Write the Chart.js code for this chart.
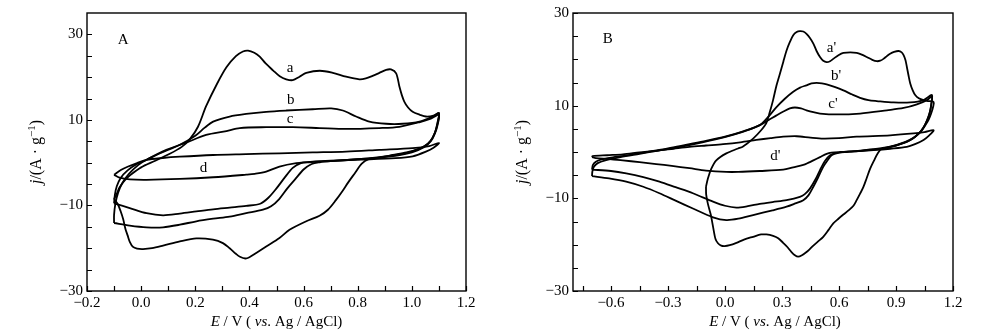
<!DOCTYPE html>
<html>
<head>
<meta charset="utf-8">
<script src="https://cdn.jsdelivr.net/npm/chart.js@4.4.0/dist/chart.umd.min.js"></script>
<style>
  html, body { margin: 0; padding: 0; background: #fff; }
  #wrap { position: relative; width: 987px; height: 336px; }
  .panel { position: absolute; top: 0; height: 336px; }
  #panelA { left: 0; width: 490px; }
  #panelB { left: 490px; width: 497px; }
</style>
</head>
<body>
<div id="wrap">
  <div class="panel" id="panelA"><canvas id="chartA"></canvas></div>
  <div class="panel" id="panelB"><canvas id="chartB"></canvas></div>
</div>
<script>
// ---- axis ticks / labels ----
var xTicksA = [-0.2, -0.1, 0, 0.1, 0.2, 0.3, 0.4, 0.5, 0.6, 0.7, 0.8, 0.9, 1.0, 1.1, 1.2];
var xLabelsA = ['\u22120.2', '', '0.0', '', '0.2', '', '0.4', '', '0.6', '', '0.8', '', '1.0', '', '1.2'];
var xTicksB = [-0.75, -0.6, -0.45, -0.3, -0.15, 0, 0.15, 0.3, 0.45, 0.6, 0.75, 0.9, 1.05, 1.2];
var xLabelsB = ['', '\u22120.6', '', '\u22120.3', '', '0.0', '', '0.3', '', '0.6', '', '0.9', '', '1.2'];
var yTicks = [-30, -25, -20, -15, -10, -5, 0, 5, 10, 15, 20, 25, 30];
var yLabels = ['\u221230', '', '', '', '\u221210', '', '', '', '10', '', '', '', '30'];

// ---- CV loops, panel A: [E (V), j (A/g)] ----
var loopA_a = [
    [-0.1,-8.5],[-0.09,-7.3],[-0.08,-5.8],[-0.06,-4.1],[-0.04,-2.9],[0.0,-1.1],[0.05,0.4],[0.1,1.9],[0.15,3.7],
    [0.18,5.5],[0.21,8.4],[0.24,13.2],[0.28,18.4],[0.315,22.3],[0.35,24.9],[0.376,26],[0.395,26.2],[0.418,25.7],
    [0.438,24.8],[0.46,23.2],[0.487,21.6],[0.512,20.2],[0.536,19.5],[0.56,19.3],[0.585,20.1],[0.61,21],[0.66,21.5],
    [0.708,21],[0.757,20.1],[0.806,19.5],[0.83,19.7],[0.855,20.3],[0.88,21],[0.905,21.7],[0.923,21.8],[0.942,20.9],
    [0.954,17.8],[0.963,15.8],[0.972,14.3],[0.986,12.9],[1.003,11.9],[1.03,11.2],[1.052,10.8],[1.08,11],[1.1,11.6],
    [1.095,9.5],[1.085,7],[1.07,5.2],[1.05,4],[1.02,3.1],[0.98,2.4],[0.93,1.8],[0.88,1.2],[0.84,0.8],[0.815,-0.2],
    [0.79,-2.4],[0.765,-4.6],[0.742,-6.8],[0.72,-8.7],[0.69,-11],[0.659,-12.4],[0.61,-13.7],[0.548,-15.7],[0.511,-17.6],
    [0.462,-19.6],[0.425,-21.1],[0.4,-22.1],[0.385,-22.4],[0.365,-22],[0.35,-21.3],[0.327,-20],[0.302,-18.8],
    [0.265,-18],[0.204,-17.7],[0.143,-18.4],[0.081,-19.4],[0.04,-20],[0.007,-20.2],[-0.015,-20.1],[-0.03,-19.7],
    [-0.042,-18.5],[-0.05,-17],[-0.058,-15.5],[-0.066,-13.3],[-0.076,-11.3],[-0.087,-9.6],[-0.1,-8.5]
];
var loopA_b = [
    [-0.1,-9.5],[-0.097,-7.5],[-0.09,-5.5],[-0.075,-3.5],[-0.05,-1.8],[-0.02,-0.5],[0.02,0.7],[0.07,2.2],[0.143,4.2],
    [0.2,6.3],[0.235,8.2],[0.266,9.6],[0.327,10.8],[0.388,11.4],[0.462,11.9],[0.536,12.2],[0.634,12.5],[0.702,12.7],
    [0.745,12.2],[0.794,10.8],[0.843,9.6],[0.905,9.1],[0.966,9.1],[1.028,9.6],[1.077,10.8],[1.1,11.6],
    [1.095,9.2],[1.085,7],[1.07,5.2],[1.045,3.8],[1.0,2.6],[0.95,1.9],[0.88,1.3],[0.8,0.8],[0.7,0.4],[0.62,0.1],
    [0.59,-0.1],[0.56,-1.2],[0.53,-3.5],[0.5,-6],[0.47,-8.2],[0.44,-9.6],[0.388,-10.1],[0.327,-10.5],[0.266,-10.9],
    [0.204,-11.4],[0.143,-11.9],[0.081,-12.3],[0.02,-11.8],[-0.042,-10.6],[-0.1,-9.5]
];
var loopA_c = [
    [-0.1,-14.1],[-0.1,-12.2],[-0.095,-9.5],[-0.085,-7],[-0.07,-4.8],[-0.045,-2.6],[-0.01,-0.5],[0.02,0.7],[0.093,3.0],
    [0.167,4.7],[0.24,6.5],[0.315,7.4],[0.364,8.1],[0.462,8.3],[0.56,8.3],[0.659,8.1],[0.757,7.9],[0.88,8.1],
    [0.954,8.4],[1.03,9.5],[1.07,10.3],[1.1,11.2],
    [1.095,8.8],[1.085,6.8],[1.07,5],[1.045,3.6],[1.0,2.4],[0.95,1.7],[0.88,1.2],[0.8,0.8],[0.7,0.35],[0.66,0.1],
    [0.63,-0.3],[0.6,-1.6],[0.57,-3.8],[0.54,-6],[0.51,-8.5],[0.48,-10.2],[0.45,-11],[0.388,-11.8],[0.327,-12.6],
    [0.266,-13.1],[0.204,-13.7],[0.143,-14.5],[0.081,-15.1],[0.02,-15.1],[-0.042,-14.7],[-0.1,-14.1]
];
var loopA_d = [
    [-0.1,-2.8],[-0.075,-1.7],[-0.048,-0.9],[-0.015,-0.1],[0.02,0.66],[0.08,1.1],[0.143,1.4],[0.266,1.8],[0.388,2.0],
    [0.511,2.2],[0.634,2.4],[0.757,2.6],[0.88,3.0],[1.003,3.4],[1.064,3.9],[1.1,4.6],
    [1.08,3.5],[1.052,2.6],[1.003,1.5],[0.94,1.05],[0.8,0.7],[0.7,0.45],[0.634,0.27],[0.573,-0.1],[0.511,-0.9],
    [0.462,-2.1],[0.42,-2.6],[0.388,-2.8],[0.266,-3.4],[0.143,-3.8],[0.02,-4.0],[-0.042,-3.9],[-0.08,-3.5],[-0.1,-2.8]
];

// ---- CV loops, panel B ----
var loopB_a = [
    [-0.1,-7.5],[-0.09,-5.7],[-0.072,-3.6],[-0.046,-1.8],[0.007,-0.3],[0.069,0.75],[0.095,1.2],[0.148,2.9],[0.19,4.7],
    [0.218,6.3],[0.235,8.5],[0.253,11.2],[0.27,14.2],[0.289,16.9],[0.307,19.5],[0.324,21.9],[0.341,23.7],[0.359,25.2],
    [0.377,25.9],[0.394,26.1],[0.412,26],[0.429,25.5],[0.447,24.6],[0.465,23.4],[0.482,21.8],[0.5,20.5],[0.517,19.7],
    [0.535,19.4],[0.553,19.6],[0.57,20.1],[0.597,20.9],[0.623,21.4],[0.66,21.5],[0.693,21.4],[0.72,21],[0.746,20.5],
    [0.775,19.9],[0.799,19.6],[0.817,19.7],[0.834,20.1],[0.852,20.7],[0.869,21.2],[0.89,21.6],[0.913,21.8],[0.93,21.5],
    [0.94,20.9],[0.95,19.8],[0.957,18.4],[0.966,16.5],[0.975,14.8],[0.988,13.3],[1.001,12.3],[1.02,11.6],[1.045,11.2],
    [1.07,11],[1.098,10.8],
    [1.095,9.7],[1.085,8.3],[1.072,7.0],[1.055,5.8],[1.035,4.6],[1.01,3.6],[0.985,2.8],[0.957,2.2],[0.915,1.6],
    [0.87,1.1],[0.825,0.7],[0.805,-0.2],[0.785,-1.8],[0.764,-3.6],[0.746,-5.6],[0.728,-7.6],[0.711,-9.0],[0.693,-10.4],
    [0.676,-11.6],[0.65,-12.6],[0.623,-13.5],[0.597,-14.4],[0.57,-15.4],[0.545,-16.8],[0.517,-18.3],[0.49,-19.3],
    [0.465,-20.2],[0.445,-21],[0.429,-21.6],[0.405,-22.3],[0.385,-22.6],[0.368,-22.3],[0.35,-21.6],[0.328,-20.5],
    [0.306,-19.6],[0.28,-18.6],[0.253,-18.1],[0.218,-17.8],[0.19,-17.8],[0.148,-18.3],[0.1,-18.9],[0.06,-19.6],
    [0.025,-20.1],[-0.002,-20.3],[-0.02,-20.2],[-0.037,-19.7],[-0.05,-18.8],[-0.063,-16.1],[-0.075,-13.5],
    [-0.09,-11.2],[-0.099,-9.2],[-0.1,-7.5]
];
var loopB_b = [
    [-0.7,-3.8],[-0.695,-2.8],[-0.68,-2.1],[-0.65,-1.6],[-0.6,-1.2],[-0.5,-0.6],[-0.4,0.1],[-0.3,0.8],[-0.2,1.6],
    [-0.1,2.4],[0.0,3.3],[0.1,4.5],[0.183,5.8],[0.23,7.7],[0.271,9.7],[0.315,11.5],[0.359,13.0],[0.395,13.9],
    [0.429,14.4],[0.455,14.8],[0.482,14.9],[0.51,14.8],[0.535,14.6],[0.58,14.0],[0.623,13.3],[0.67,12.4],[0.711,11.7],
    [0.755,11.2],[0.799,11.0],[0.887,10.7],[0.975,10.7],[1.045,11.2],[1.089,12.3],
    [1.085,10.2],[1.078,8.6],[1.065,7.0],[1.045,5.3],[1.02,4.0],[0.99,3.0],[0.95,2.2],[0.9,1.5],[0.85,1.0],[0.78,0.6],
    [0.7,0.25],[0.63,0.0],[0.588,-0.2],[0.553,-0.7],[0.525,-2.0],[0.5,-3.9],[0.475,-6.0],[0.447,-7.9],[0.42,-9.1],
    [0.394,-9.7],[0.324,-10.4],[0.25,-10.8],[0.183,-11.2],[0.12,-11.7],[0.06,-12.0],[0.0,-11.6],[-0.063,-10.7],
    [-0.169,-8.9],[-0.26,-7.6],[-0.345,-6.4],[-0.43,-5.4],[-0.52,-4.6],[-0.6,-4.1],[-0.7,-3.8]
];
var loopB_c = [
    [-0.7,-5.2],[-0.698,-4.2],[-0.69,-3.2],[-0.67,-2.4],[-0.63,-1.8],[-0.55,-1.1],[-0.45,-0.4],[-0.35,0.3],[-0.25,1.0],
    [-0.15,1.8],[-0.05,2.7],[0.05,3.8],[0.13,4.9],[0.183,5.8],[0.23,6.9],[0.271,7.9],[0.31,8.8],[0.341,9.4],[0.368,9.6],
    [0.4,9.4],[0.429,9.0],[0.465,8.6],[0.5,8.3],[0.588,8.1],[0.711,8.3],[0.852,9.0],[0.94,9.5],[1.01,10.3],[1.063,11.2],
    [1.089,12.0],
    [1.085,10.0],[1.077,8.4],[1.063,6.8],[1.043,5.2],[1.018,3.9],[0.988,2.9],[0.95,2.1],[0.9,1.4],[0.85,0.9],[0.78,0.5],
    [0.7,0.2],[0.64,0.0],[0.597,-0.2],[0.561,-0.7],[0.54,-1.8],[0.517,-3.2],[0.49,-5.5],[0.465,-7.5],[0.44,-9.3],
    [0.412,-10.4],[0.37,-11.1],[0.324,-11.8],[0.25,-12.6],[0.148,-13.6],[0.07,-14.4],[0.007,-14.7],[-0.063,-14.1],
    [-0.169,-12.2],[-0.26,-10.5],[-0.345,-8.9],[-0.43,-7.5],[-0.52,-6.4],[-0.61,-5.7],[-0.7,-5.2]
];
var loopB_d = [
    [-0.7,-1.1],[-0.697,-0.9],[-0.62,-0.7],[-0.538,-0.5],[-0.45,-0.1],[-0.362,0.25],[-0.27,0.7],[-0.187,1.1],
    [-0.1,1.4],[-0.01,1.7],[0.08,2.1],[0.165,2.6],[0.24,3.0],[0.306,3.3],[0.377,3.4],[0.45,3.1],[0.517,2.9],[0.6,3.0],
    [0.693,3.3],[0.869,3.6],[0.993,4.0],[1.05,4.3],[1.098,4.7],
    [1.075,3.6],[1.045,2.6],[1.0,1.7],[0.957,1.1],[0.87,0.7],[0.781,0.4],[0.68,0.15],[0.605,0.0],[0.56,-0.15],
    [0.535,-0.4],[0.5,-1.1],[0.465,-1.8],[0.44,-2.3],[0.412,-2.8],[0.359,-3.3],[0.306,-3.8],[0.183,-4.1],[0.07,-4.3],
    [0.007,-4.3],[-0.1,-4.0],[-0.187,-3.5],[-0.28,-3.0],[-0.362,-2.6],[-0.45,-2.2],[-0.538,-1.8],[-0.62,-1.5],
    [-0.68,-1.3],[-0.7,-1.1]
];

// curve tags, placed in data units
var tagsA = [
    { text: 'A', x: -0.066, y: 28.7, size: 15 },
    { text: 'a', x: 0.55, y: 22.2 },
    { text: 'b', x: 0.553, y: 14.7 },
    { text: 'c', x: 0.55, y: 10.1 },
    { text: 'd', x: 0.23, y: -1.3 }
];
var tagsB = [
    { text: 'B', x: -0.617, y: 24.3, size: 15 },
    { text: "a'", x: 0.56, y: 22.4 },
    { text: "b'", x: 0.585, y: 16.4 },
    { text: "c'", x: 0.568, y: 10.25 },
    { text: "d'", x: 0.265, y: -0.8 }
];

var SERIF = '"Liberation Serif", "Times New Roman", serif';
Chart.defaults.font.family = SERIF;
Chart.defaults.color = '#000';

function toPoints(loop) {
    return loop.map(function (p) { return { x: p[0], y: p[1] }; });
}

function makeDatasets(loops) {
    return loops.map(function (loop) {
        return {
            data: toPoints(loop),
            showLine: true,
            borderColor: '#000',
            borderWidth: 1.8,
            pointRadius: 0,
            tension: 0.3,
            fill: false
        };
    });
}

// draw mixed-style text runs centred on (x, y)
function drawRuns(ctx, runs, x, y, rotate) {
    ctx.save();
    ctx.translate(x, y);
    if (rotate) ctx.rotate(-Math.PI / 2);
    ctx.fillStyle = '#000';
    ctx.textBaseline = 'alphabetic';
    var total = 0;
    runs.forEach(function (r) { ctx.font = r.font; total += ctx.measureText(r.t).width; });
    var cx = -total / 2;
    runs.forEach(function (r) {
        ctx.font = r.font;
        ctx.fillText(r.t, cx, 5 + (r.dy || 0));
        cx += ctx.measureText(r.t).width;
    });
    ctx.restore();
}

var xTitleRuns = [
    { t: 'E', font: 'italic 15px ' + SERIF },
    { t: ' / V ( ', font: '15px ' + SERIF },
    { t: 'vs', font: 'italic 15px ' + SERIF },
    { t: '. Ag / AgCl)', font: '15px ' + SERIF }
];
var yTitleRuns = [
    { t: 'j', font: 'italic 16px ' + SERIF },
    { t: '/(A \u00b7 g', font: '16px ' + SERIF },
    { t: '\u22121', font: '11px ' + SERIF, dy: -6 },
    { t: ')', font: '16px ' + SERIF }
];

// box frame, inward ticks, tags and axis titles
var cvDecor = {
    id: 'cvDecor',
    afterDraw: function (chart, args, opts) {
        var ctx = chart.ctx, a = chart.chartArea;
        var xs = chart.scales.x, ys = chart.scales.y;
        ctx.save();
        ctx.strokeStyle = '#000';
        ctx.lineWidth = 1.4;
        ctx.strokeRect(a.left, a.top, a.right - a.left, a.bottom - a.top);
        ctx.lineWidth = 1.2;
        ctx.beginPath();
        xs.ticks.forEach(function (t) {
            var px = Math.round(xs.getPixelForValue(t.value)) + 0.5;
            ctx.moveTo(px, a.bottom);
            ctx.lineTo(px, a.bottom - 5);
        });
        ys.ticks.forEach(function (t) {
            var py = Math.round(ys.getPixelForValue(t.value)) + 0.5;
            ctx.moveTo(a.left, py);
            ctx.lineTo(a.left + 5, py);
        });
        ctx.stroke();

        ctx.fillStyle = '#000';
        ctx.textAlign = 'center';
        ctx.textBaseline = 'middle';
        opts.tags.forEach(function (tg) {
            ctx.font = (tg.size || 15) + 'px ' + SERIF;
            ctx.fillText(tg.text, xs.getPixelForValue(tg.x), ys.getPixelForValue(tg.y));
        });
        ctx.textAlign = 'left';
        ctx.restore();

        drawRuns(ctx, xTitleRuns, (a.left + a.right) / 2 + opts.xTitleShift, 321, false);
        drawRuns(ctx, yTitleRuns, opts.yTitleX, (a.top + a.bottom) / 2, true);
    }
};

function makeChart(id, loops, xmin, xmax, ymin, ymax, xTicks, xLabels, yWidth, padRight, decor) {
    return new Chart(document.getElementById(id), {
        type: 'scatter',
        data: { datasets: makeDatasets(loops) },
        options: {
            responsive: true,
            maintainAspectRatio: false,
            animation: false,
            layout: { padding: { left: 0, right: padRight, top: 13, bottom: 0 } },
            scales: {
                x: {
                    type: 'linear',
                    min: xmin,
                    max: xmax,
                    afterBuildTicks: function (axis) {
                        axis.ticks = xTicks.map(function (v) { return { value: v }; });
                    },
                    afterFit: function (axis) { axis.height = 45; },
                    grid: { display: false, drawTicks: false },
                    border: { display: false },
                    ticks: {
                        autoSkip: false,
                        maxRotation: 0,
                        padding: 3,
                        font: { size: 15 },
                        callback: function (v, i) { return xLabels[i]; }
                    }
                },
                y: {
                    type: 'linear',
                    min: ymin,
                    max: ymax,
                    afterBuildTicks: function (axis) {
                        axis.ticks = yTicks.map(function (v) { return { value: v }; });
                    },
                    afterFit: function (axis) { axis.width = yWidth; },
                    grid: { display: false, drawTicks: false },
                    border: { display: false },
                    ticks: {
                        autoSkip: false,
                        padding: 4,
                        font: { size: 15 },
                        callback: function (v, i) { return yLabels[i]; }
                    }
                }
            },
            plugins: {
                legend: { display: false },
                tooltip: { enabled: false },
                cvDecor: decor
            }
        },
        plugins: [cvDecor]
    });
}

makeChart('chartA', [loopA_a, loopA_b, loopA_c, loopA_d], -0.2, 1.2, -30, 35,
    xTicksA, xLabelsA, 87, 24, { tags: tagsA, xTitleShift: 0, yTitleX: 36 });

makeChart('chartB', [loopB_a, loopB_b, loopB_c, loopB_d], -0.8, 1.2, -30, 30,
    xTicksB, xLabelsB, 83, 34, { tags: tagsB, xTitleShift: 12, yTitleX: 32 });
</script>
</body>
</html>
